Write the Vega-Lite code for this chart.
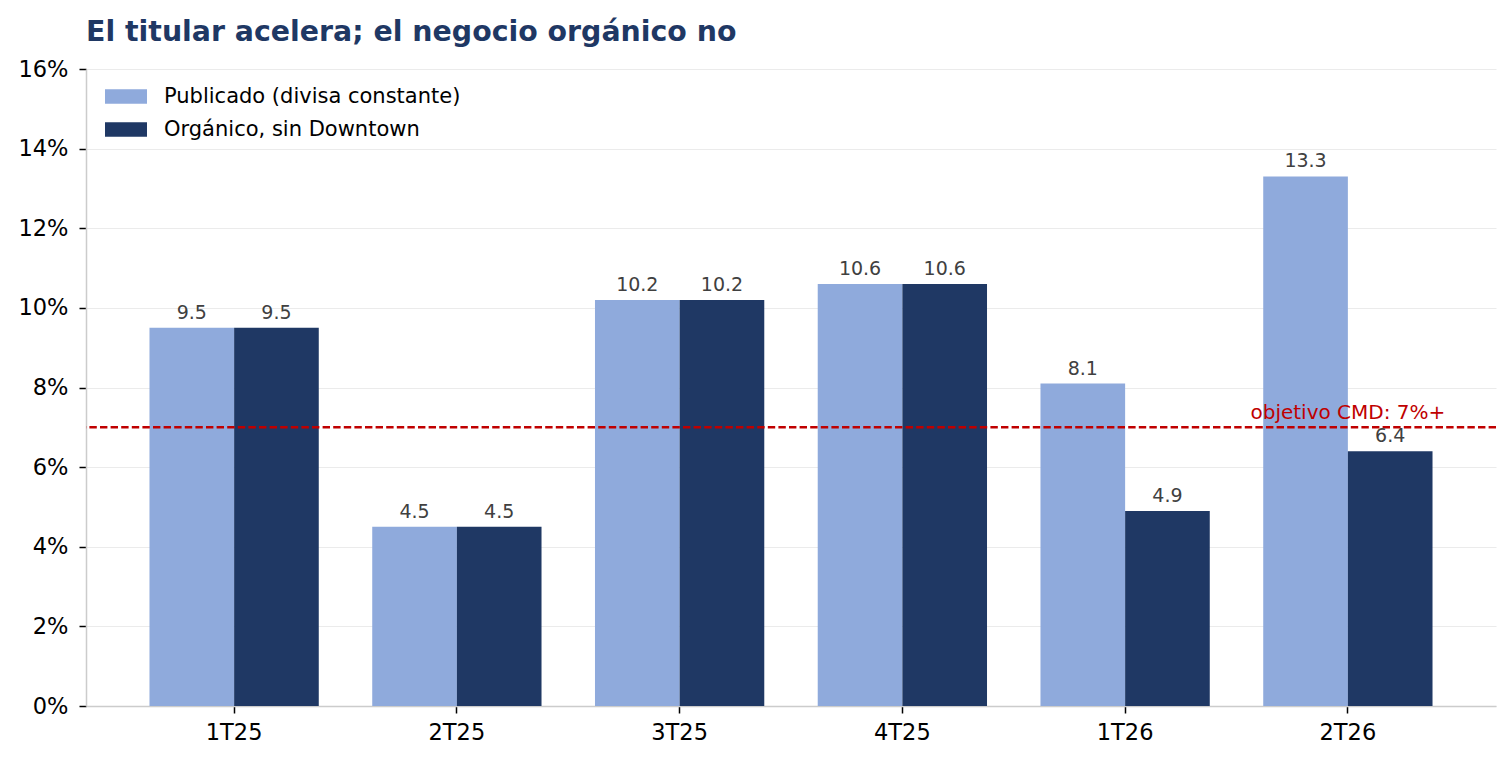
{
  "$schema": "https://vega.github.io/schema/vega-lite/v6.json",
  "width": 1410,
  "height": 637,
  "autosize": {"type": "none"},
  "padding": {"left": 86, "top": 69, "right": 16, "bottom": 58},
  "background": "white",
  "title": {
    "text": "El titular acelera; el negocio orgánico no",
    "anchor": "start",
    "frame": "group",
    "font": "DejaVu Sans",
    "fontSize": 28.4,
    "fontWeight": "bold",
    "color": "#1f3864",
    "baseline": "alphabetic",
    "offset": 29,
    "dy": 40
  },
  "config": {
    "view": {"stroke": null},
    "font": "DejaVu Sans",
    "axis": {
      "labelFont": "DejaVu Sans",
      "labelFontSize": 22.5,
      "labelColor": "black",
      "domainColor": "#cccccc",
      "domainWidth": 1.5,
      "tickColor": "black",
      "tickWidth": 1.5,
      "tickSize": 7,
      "gridColor": "#ebebeb",
      "gridWidth": 1,
      "title": null
    }
  },
  "datasets": {
    "bars": [
      {"trimestre": "1T25", "serie": "Publicado (divisa constante)", "valor": 9.5},
      {"trimestre": "1T25", "serie": "Orgánico, sin Downtown", "valor": 9.5},
      {"trimestre": "2T25", "serie": "Publicado (divisa constante)", "valor": 4.5},
      {"trimestre": "2T25", "serie": "Orgánico, sin Downtown", "valor": 4.5},
      {"trimestre": "3T25", "serie": "Publicado (divisa constante)", "valor": 10.2},
      {"trimestre": "3T25", "serie": "Orgánico, sin Downtown", "valor": 10.2},
      {"trimestre": "4T25", "serie": "Publicado (divisa constante)", "valor": 10.6},
      {"trimestre": "4T25", "serie": "Orgánico, sin Downtown", "valor": 10.6},
      {"trimestre": "1T26", "serie": "Publicado (divisa constante)", "valor": 8.1},
      {"trimestre": "1T26", "serie": "Orgánico, sin Downtown", "valor": 4.9},
      {"trimestre": "2T26", "serie": "Publicado (divisa constante)", "valor": 13.3},
      {"trimestre": "2T26", "serie": "Orgánico, sin Downtown", "valor": 6.4}
    ],
    "objetivo": [
      {"trimestre": "2T26", "meta": 7, "texto": "objetivo CMD: 7%+"}
    ]
  },
  "encoding": {
    "x": {
      "field": "trimestre",
      "type": "nominal",
      "sort": null,
      "scale": {"paddingInner": 0.24, "paddingOuter": 0.285},
      "axis": {"labelAngle": 0, "grid": false, "labelPadding": 8, "tickBand": "center"}
    },
    "y": {
      "type": "quantitative",
      "scale": {"domain": [0, 16], "nice": false},
      "axis": {
        "values": [0, 2, 4, 6, 8, 10, 12, 14, 16],
        "labelExpr": "datum.value + '%'",
        "labelPadding": 11,
        "grid": true
      }
    }
  },
  "layer": [
    {
      "data": {"name": "bars"},
      "mark": {"type": "bar"},
      "encoding": {
        "y": {"field": "valor", "type": "quantitative"},
        "xOffset": {
          "field": "serie",
          "type": "nominal",
          "sort": ["Publicado (divisa constante)", "Orgánico, sin Downtown"],
          "scale": {"paddingInner": 0, "paddingOuter": 0}
        },
        "color": {
          "field": "serie",
          "type": "nominal",
          "scale": {
            "domain": ["Publicado (divisa constante)", "Orgánico, sin Downtown"],
            "range": ["#8faadc", "#1f3864"]
          },
          "legend": {
            "title": null,
            "orient": "none",
            "legendX": 16,
            "legendY": 17,
            "labelFont": "DejaVu Sans",
            "labelFontSize": 21,
            "labelColor": "black",
            "labelLimit": 500,
            "symbolType": "M-1,-0.96H4.6V0.96H-1Z",
            "symbolSize": 225,
            "symbolStrokeWidth": 0,
            "symbolOpacity": 1,
            "labelOffset": 41,
            "rowPadding": 11
          }
        }
      }
    },
    {
      "data": {"name": "objetivo"},
      "mark": {"type": "rule", "color": "#c00000", "strokeWidth": 2.6, "strokeDash": [7.4, 3.2]},
      "encoding": {"x": null, "y": {"field": "meta", "type": "quantitative"}}
    },
    {
      "data": {"name": "bars"},
      "mark": {"type": "text", "baseline": "alphabetic", "dy": -9, "fontSize": 19, "color": "#404040", "font": "DejaVu Sans"},
      "encoding": {
        "y": {"field": "valor", "type": "quantitative"},
        "xOffset": {
          "field": "serie",
          "type": "nominal",
          "sort": ["Publicado (divisa constante)", "Orgánico, sin Downtown"]
        },
        "text": {"field": "valor", "type": "quantitative", "format": ".1f"}
      }
    },
    {
      "data": {"name": "objetivo"},
      "mark": {"type": "text", "baseline": "alphabetic", "dy": -8, "fontSize": 20, "color": "#c00000", "font": "DejaVu Sans"},
      "encoding": {
        "y": {"field": "meta", "type": "quantitative"},
        "text": {"field": "texto"}
      }
    }
  ]
}
